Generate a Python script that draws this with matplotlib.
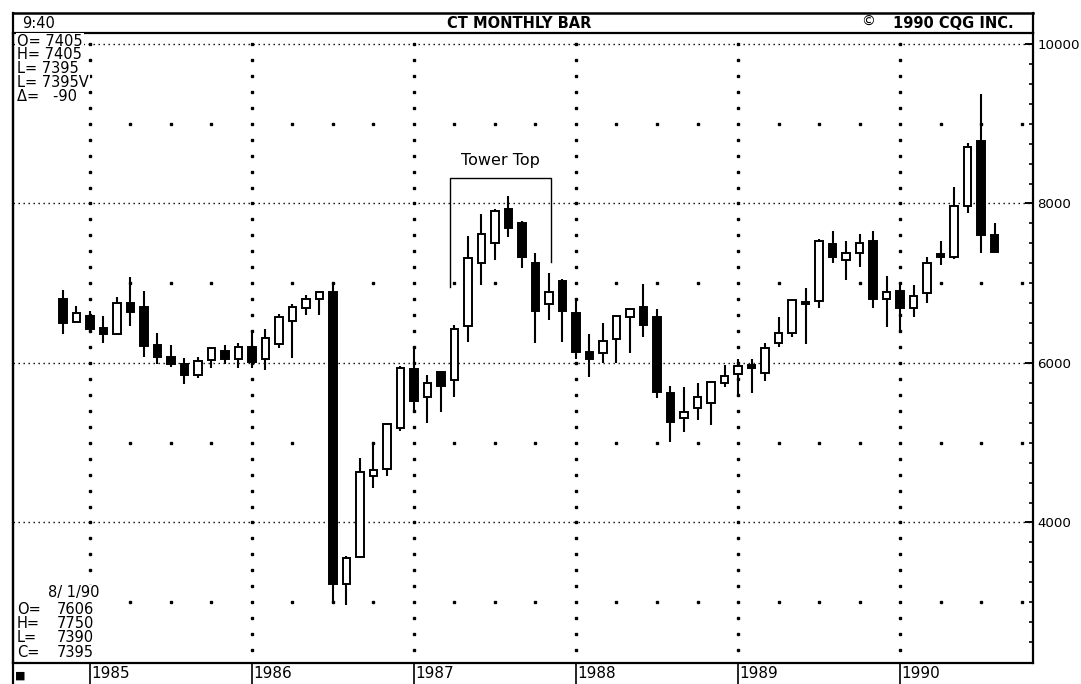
import matplotlib
matplotlib.use('Agg')
import matplotlib.pyplot as plt
import numpy as np
from matplotlib.lines import Line2D
from matplotlib.transforms import blended_transform_factory

# ---- data: monthly cotton bars, Nov 1984 .. Aug 1990 ----
opens = [6800, 6518, 6589, 6443, 6363, 6748, 6698, 6226, 6079, 5987,
         5849, 6037, 6154, 6046, 6205, 6046, 6238, 6530, 6686, 6799,
         6894, 3229, 3571, 4583, 4667, 5189, 5921, 5570, 5883, 5787,
         6467, 7250, 7509, 7931, 7760, 7258, 6740, 7032, 6630, 6142,
         6129, 6301, 6580, 6706, 6573, 5627, 5314, 5432, 5495, 5753,
         5862, 5971, 5870, 6247, 6372, 6768, 6781, 7488, 7292, 7375,
         7530, 6803, 6903, 6690, 6874, 7367, 7325, 7968, 8784, 7606]
highs = [6915, 6715, 6650, 6589, 6824, 7075, 6908, 6380, 6226, 6059,
         6079, 6200, 6226, 6255, 6405, 6422, 6620, 6740, 6853, 6900,
         7019, 3580, 4805, 5015, 5250, 5960, 6205, 5850, 5900, 6476,
         7592, 7868, 7930, 8094, 7780, 7383, 7132, 7050, 6811, 6363,
         6498, 6600, 6690, 6990, 6673, 5712, 5695, 5753, 5770, 5975,
         6046, 6046, 6247, 6573, 6800, 6936, 7550, 7659, 7534, 7614,
         7659, 7091, 7007, 6978, 7333, 7530, 8210, 8763, 9373, 7750]
lows = [6365, 6510, 6390, 6255, 6363, 6464, 6079, 5987, 5946, 5736,
        5808, 5933, 5987, 5933, 5933, 5912, 6185, 6059, 6602, 6602,
        3006, 2965, 3560, 4428, 4583, 5150, 5377, 5244, 5391, 5570,
        6267, 6978, 7292, 7576, 7187, 6254, 6539, 6267, 6046, 5829,
        6004, 6004, 6129, 6322, 5557, 5013, 5139, 5285, 5222, 5703,
        5578, 5627, 5778, 6197, 6322, 6238, 6686, 7250, 7040, 7208,
        6686, 6455, 6372, 6581, 6756, 7229, 7310, 7885, 7376, 7390]
closes = [6505, 6630, 6422, 6363, 6756, 6635, 6213, 6079, 5987, 5849,
          6025, 6184, 6046, 6197, 6017, 6310, 6573, 6698, 6799, 6886,
          3229, 3560, 4637, 4658, 5231, 5934, 5527, 5753, 5710, 6426,
          7313, 7617, 7910, 7697, 7333, 6652, 6894, 6652, 6142, 6050,
          6279, 6593, 6677, 6476, 5640, 5264, 5382, 5570, 5758, 5837,
          5962, 5933, 6184, 6380, 6790, 6736, 7530, 7333, 7383, 7501,
          6799, 6886, 6686, 6840, 7250, 7333, 7973, 8712, 7605, 7395]
years = ['1985', '1986', '1987', '1988', '1989', '1990']
first_jan = 2            # index of Jan 1985 (series starts Nov 1984)
price_labels = [4000, 6000, 8000, 10000]

W, H = 1081, 684
fig = plt.figure(figsize=(W / 100, H / 100), dpi=100)
fig.patch.set_facecolor('white')
L, R, T, B = 13, 1033, 33, 663


def fx(px):
    return px / W


def fy(py):
    return 1 - py / H


ax = fig.add_axes([fx(L), fy(B), (R - L) / W, (B - T) / H])
ax.set_facecolor('white')
n = len(opens)
xs = np.arange(n)
ax.set_xlim(-3.7, 71.85)
ax.set_ylim(2238, 10138)

# ---- dotted grid ----
for v in price_labels:
    ax.axhline(v, color='black', lw=1.0, ls=(0, (1, 2.6)), zorder=1)
year_pos = [first_jan + 12 * k for k in range(len(years))]
ydots = np.arange(2400, 10001, 200)
for p in year_pos:
    ax.plot([p] * len(ydots), ydots, ls='none', marker='s', ms=1.5,
            color='black', zorder=1)
qpos = [q for q in range(first_jan, 72, 3) if q not in year_pos]
for lev in [3000, 5000, 7000, 9000]:
    ax.plot(qpos, [lev] * len(qpos), ls='none', marker='s', ms=1.5,
            color='black', zorder=1)

# ---- candles ----
o = np.array(opens); h = np.array(highs); lo = np.array(lows); c = np.array(closes)
ax.vlines(xs, lo, h, color='black', lw=1.5, zorder=2)
up = c >= o
ax.bar(xs[up], (c - o)[up], bottom=o[up], width=0.56, facecolor='white',
       edgecolor='black', linewidth=1.4, zorder=3)
ax.bar(xs[~up], (o - c)[~up], bottom=c[~up], width=0.56, facecolor='black',
       edgecolor='black', linewidth=1.4, zorder=3)

# ---- axes styling ----
for s in ['left', 'top', 'bottom', 'right']:
    ax.spines[s].set_linewidth(1.6)
    ax.spines[s].set_color('black')
ax.yaxis.tick_right()
ax.set_yticks(price_labels)
ax.set_yticklabels([str(v) for v in price_labels], fontsize=9.6,
                   family='DejaVu Sans')
ax.set_yticks(np.arange(2500, 10001, 250), minor=True)
ax.tick_params(axis='y', which='major', direction='in', length=6, width=1.4,
               pad=3)
ax.tick_params(axis='y', which='minor', direction='in', length=3, width=1.2)
ax.set_xticks(year_pos)
ax.set_xticklabels([])
ax.tick_params(axis='x', which='major', direction='out', length=15, width=1.2)
btr = blended_transform_factory(ax.transData, ax.transAxes)
for p, yl in zip(year_pos, years):
    ax.text(p + 0.12, -0.004, yl, transform=btr, ha='left', va='top',
            fontsize=11, family='DejaVu Sans')

# ---- Tower Top annotation ----
ax.plot([28.67, 28.67, 36.12, 36.12], [6956, 8317, 8317, 7270],
        color='black', lw=1.0, zorder=2)
ax.text(32.4, 8440, 'Tower Top', ha='center', va='bottom', fontsize=11.5,
        family='DejaVu Sans')

# ---- header box ----
fig.add_artist(Line2D([fx(L), fx(R)], [fy(13), fy(13)], color='black', lw=1.8))
fig.add_artist(Line2D([fx(L), fx(L)], [fy(13), fy(H)], color='black', lw=1.6))
fig.add_artist(Line2D([fx(R), fx(R)], [fy(13), fy(T)], color='black', lw=1.6))
fig.text(fx(22), fy(23), '9:40', fontsize=10.5, va='center', ha='left',
         family='DejaVu Sans')
fig.text(fx(519), fy(23), 'CT MONTHLY BAR', fontsize=10.5, va='center',
         ha='center', weight='bold', family='Liberation Sans Narrow')
fig.text(fx(861), fy(22), '©', fontsize=10, va='center', ha='left',
         family='DejaVu Sans')
fig.text(fx(893), fy(23), '1990 CQG INC.', fontsize=10.5, va='center',
         ha='left', weight='bold', family='Liberation Sans Narrow')

wbox = dict(facecolor='white', edgecolor='none', pad=0.6)
top_lines = ['O= 7405', 'H= 7405', 'L= 7395', 'L= 7395V', 'Δ=   -90']
for i, t in enumerate(top_lines):
    fig.text(fx(17), fy(41 + 13.8 * i), t, fontsize=10.5, va='center',
             ha='left', family='DejaVu Sans', bbox=wbox)

fig.text(fx(48), fy(593), '8/ 1/90', fontsize=10.5, va='center', ha='left',
         family='DejaVu Sans', bbox=wbox)
bot_lines = [('O=', '7606'), ('H=', '7750'), ('L=', '7390'), ('C=', '7395')]
for i, (a, b) in enumerate(bot_lines):
    yy = fy(609 + 14.5 * i)
    fig.text(fx(17), yy, a, fontsize=10.5, va='center', ha='left',
             family='DejaVu Sans', bbox=wbox)
    fig.text(fx(57), yy, b, fontsize=10.5, va='center', ha='left',
             family='DejaVu Sans', bbox=wbox)
fig.text(fx(15), fy(676), '■', fontsize=8, va='center', ha='left',
         family='DejaVu Sans')

fig.savefig('out.png', dpi=100, facecolor='white')
